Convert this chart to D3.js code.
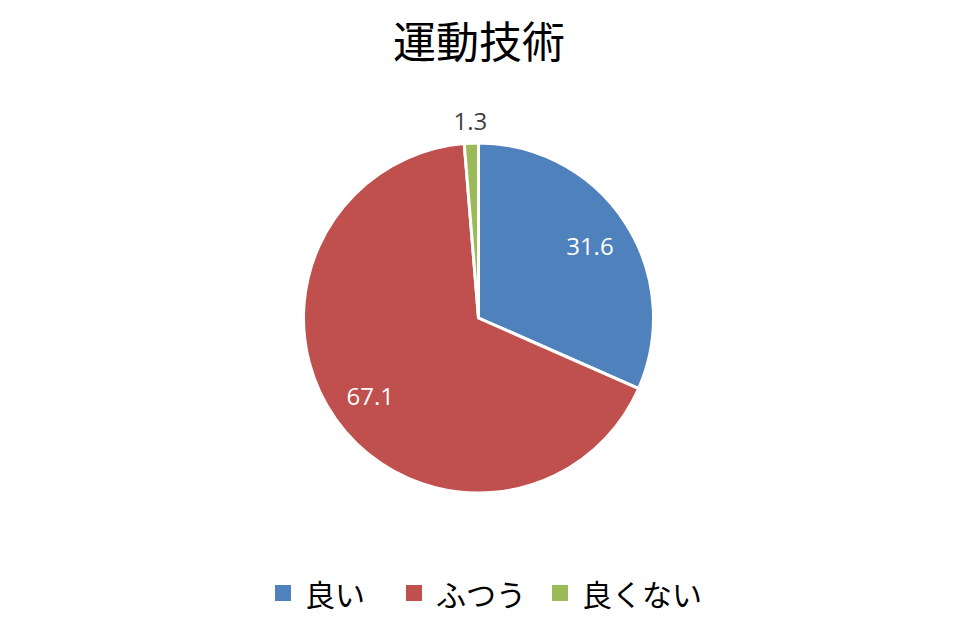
<!DOCTYPE html>
<html>
<head>
<meta charset="utf-8">
<script src="https://cdn.jsdelivr.net/npm/d3@7"></script>
<style>
  body { margin: 0; background: #fff; }
  text { font-family: "Noto Sans CJK JP", "Open Sans", sans-serif; }
</style>
</head>
<body>
<svg id="chart" width="960" height="620"></svg>
<script>
const title = '運動技術';
const categories = ['良い', 'ふつう', '良くない'];
const values = [31.6, 67.1, 1.3];
const colors = ['#4F81BD', '#C0504D', '#9BBB59'];

const width = 960, height = 620;
const cx = 478.5, cy = 318, radius = 175;

const svg = d3.select('#chart');

svg.append('text')
  .attr('x', 479)
  .attr('y', 39)
  .attr('text-anchor', 'middle')
  .attr('dominant-baseline', 'central')
  .style('font-size', '43px')
  .style('fill', '#000')
  .text(title);

const data = categories.map((c, i) => ({name: c, value: values[i], color: colors[i]}));

const pie = d3.pie().sort(null).value(d => d.value);
const arcs = pie(data);

const arc = d3.arc().innerRadius(0).outerRadius(radius);

const g = svg.append('g').attr('transform', `translate(${cx},${cy})`);

g.selectAll('path')
  .data(arcs)
  .join('path')
  .attr('d', arc)
  .attr('fill', d => d.data.color)
  .attr('stroke', '#fff')
  .attr('stroke-width', 3)
  .attr('stroke-linejoin', 'miter');

// labels: inside for big slices, outside for the tiny one
const labelArc = d3.arc().innerRadius(133).outerRadius(133);
const outerArc = d3.arc().innerRadius(198).outerRadius(198);

g.selectAll('text.val')
  .data(arcs)
  .join('text')
  .attr('class', 'val')
  .attr('transform', d => {
    const small = d.data.value < 5;
    const p = (small ? outerArc : labelArc).centroid(d);
    return `translate(${p[0]},${p[1]})`;
  })
  .attr('text-anchor', 'middle')
  .attr('dominant-baseline', 'central')
  .style('font-family', '"Open Sans", sans-serif')
  .style('font-size', '24px')
  .style('fill', d => d.data.value < 5 ? '#404040' : '#fff')
  .text(d => d.data.value.toFixed(1));

// legend
const legendX = [275, 406, 552];
const legend = svg.append('g');
const item = legend.selectAll('g')
  .data(data)
  .join('g')
  .attr('transform', (d, i) => `translate(${legendX[i]},593)`);

item.append('rect')
  .attr('x', 0)
  .attr('y', -8)
  .attr('width', 16)
  .attr('height', 16)
  .attr('fill', d => d.color);

item.append('text')
  .attr('x', 30)
  .attr('y', 0)
  .attr('dominant-baseline', 'central')
  .style('font-size', '30px')
  .style('fill', '#000')
  .text(d => d.name);
</script>
</body>
</html>
